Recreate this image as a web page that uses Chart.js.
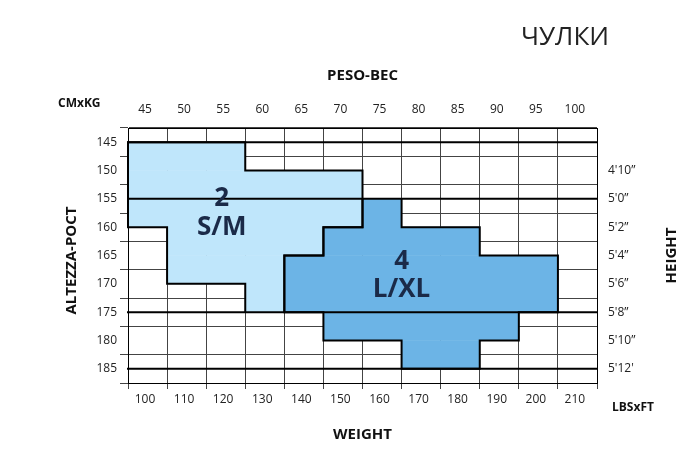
<!DOCTYPE html>
<html>
<head>
<meta charset="utf-8">
<script src="https://cdn.jsdelivr.net/npm/chart.js@4/dist/chart.umd.min.js"></script>
<style>
  html, body { margin: 0; padding: 0; background: #fff; }
  #wrap { width: 698px; height: 463px; position: relative; }
</style>
</head>
<body>
<div id="wrap"><canvas id="sizeChart"></canvas></div>
<script>
// tick labels
const kgLabels = [45, 50, 55, 60, 65, 70, 75, 80, 85, 90, 95, 100];
const lbsLabels = [100, 110, 120, 130, 140, 150, 160, 170, 180, 190, 200, 210];
const cmLabels = [145, 150, 155, 160, 165, 170, 175, 180, 185];
const ftLabels = ["", "4'10\u201D", "5'0\u201D", "5'2\u201D", "5'4\u201D", "5'6\u201D", "5'8\u201D", "5'10\u201D", "5'12'"];

// size regions: per height row, [first column, last column] (null = not in size)
const sizeSM = [[0, 3], [0, 6], [0, 6], [1, 5], [1, 4], [3, 4], null, null];
const sizeLXL = [null, null, [6, 7], [5, 9], [4, 11], [4, 11], [5, 10], [7, 9]];

const toBars = (rows) =>
  rows.map((r, i) => (r ? { y: i + 0.5, x: r } : null)).filter(Boolean);

const FONT = "'Open Sans', 'DejaVu Sans', sans-serif";

// outline of each size region along its borders
const outlinePlugin = {
  id: "outline",
  afterDatasetsDraw(chart) {
    const ctx = chart.ctx;
    const xs = chart.scales.x;
    const ys = chart.scales.y;
    const inside = (rows, r, c) => r >= 0 && r < rows.length && rows[r] && c >= rows[r][0] && c < rows[r][1];
    ctx.save();
    ctx.strokeStyle = "#000";
    ctx.lineWidth = 2;
    ctx.lineCap = "square";
    [sizeSM, sizeLXL].forEach((rows) => {
      ctx.beginPath();
      rows.forEach((r, i) => {
        if (!r) return;
        [r[0], r[1]].forEach((c) => {
          ctx.moveTo(xs.getPixelForValue(c), ys.getPixelForValue(i));
          ctx.lineTo(xs.getPixelForValue(c), ys.getPixelForValue(i + 1));
        });
      });
      for (let k = 0; k <= rows.length; k++) {
        for (let c = 0; c < 12; c++) {
          if (inside(rows, k - 1, c) !== inside(rows, k, c)) {
            ctx.moveTo(xs.getPixelForValue(c), ys.getPixelForValue(k));
            ctx.lineTo(xs.getPixelForValue(c + 1), ys.getPixelForValue(k));
          }
        }
      }
      ctx.stroke();
    });

    // size names
    ctx.fillStyle = "#1b2a48";
    ctx.textAlign = "center";
    ctx.textBaseline = "middle";
    ctx.font = "bold 26px " + FONT;
    ctx.fillText("2", xs.getPixelForValue(2.4), ys.getPixelForValue(2.0));
    ctx.fillText("S/M", xs.getPixelForValue(2.4), ys.getPixelForValue(3.0));
    ctx.fillText("4", xs.getPixelForValue(7.0), ys.getPixelForValue(4.2));
    ctx.fillText("L/XL", xs.getPixelForValue(7.0), ys.getPixelForValue(5.2));

    // titles
    const a = chart.chartArea;
    ctx.fillStyle = "#111";
    ctx.font = "bold 15px " + FONT;
    ctx.fillText("PESO-BEC", (a.left + a.right) / 2, 76);
    ctx.fillText("WEIGHT", (a.left + a.right) / 2, 435);
    ctx.font = "bold 12px " + FONT;
    ctx.textAlign = "left";
    ctx.fillText("CMxKG", 58, 104);
    ctx.fillText("LBSxFT", 612, 408);
    ctx.textAlign = "center";
    ctx.font = "bold 15px " + FONT;
    ctx.save();
    ctx.translate(72, (a.top + a.bottom) / 2 + 5);
    ctx.rotate(-Math.PI / 2);
    ctx.fillText("ALTEZZA-POCT", 0, 0);
    ctx.restore();
    ctx.save();
    ctx.translate(672, (a.top + a.bottom) / 2);
    ctx.rotate(-Math.PI / 2);
    ctx.fillText("HEIGHT", 0, 0);
    ctx.restore();
    ctx.font = "26px " + FONT;
    ctx.fillStyle = "#222";
    ctx.fillText("ЧУЛКИ", 565, 38);
    ctx.restore();
  },
};

const tickFont = { family: FONT, size: 12 };

new Chart(document.getElementById("sizeChart"), {
  type: "bar",
  data: {
    datasets: [
      { label: "2 S/M", data: toBars(sizeSM), backgroundColor: "#bfe6fb", borderWidth: 0 },
      { label: "4 L/XL", data: toBars(sizeLXL), backgroundColor: "#6cb4e6", borderWidth: 0 },
    ],
  },
  options: {
    indexAxis: "y",
    responsive: true,
    maintainAspectRatio: false,
    animation: false,
    grouped: false,
    barPercentage: 1,
    categoryPercentage: 1,
    layout: { padding: 0 },
    plugins: { legend: { display: false }, tooltip: { enabled: false } },
    scales: {
      x: {
        type: "linear", position: "bottom", min: 0, max: 12,
        afterFit: (s) => { s.height = 80; },
        ticks: { stepSize: 1, color: "#222", font: tickFont, labelOffset: 17, maxRotation: 0,
          callback: (v) => (lbsLabels[v] !== undefined ? lbsLabels[v] : "") },
        grid: { color: "#444", lineWidth: 1, tickLength: 6 },
        border: { color: "#000" },
      },
      x2: {
        type: "linear", position: "top", min: 0, max: 12,
        afterFit: (s) => { s.height = 128; },
        ticks: { stepSize: 1, color: "#222", font: tickFont, labelOffset: 17, maxRotation: 0,
          callback: (v) => (kgLabels[v] !== undefined ? kgLabels[v] : "") },
        grid: { display: false },
        border: { color: "#000" },
      },
      y: {
        type: "linear", position: "left", min: 0, max: 8, reverse: true,
        afterFit: (s) => { s.width = 128; },
        ticks: { stepSize: 1, color: "#222", font: tickFont, callback: (v) => cmLabels[v] },
        grid: { color: "#444", lineWidth: 1, tickLength: 8 },
        border: { color: "#000" },
      },
      y2: {
        type: "linear", position: "right", min: 0, max: 8, reverse: true,
        afterFit: (s) => { s.width = 101; },
        ticks: { stepSize: 1, color: "#222", font: tickFont, callback: (v) => ftLabels[v] },
        grid: { display: false, tickLength: 8 },
        border: { color: "#000" },
      },
    },
  },
  plugins: [outlinePlugin],
});
</script>
</body>
</html>
